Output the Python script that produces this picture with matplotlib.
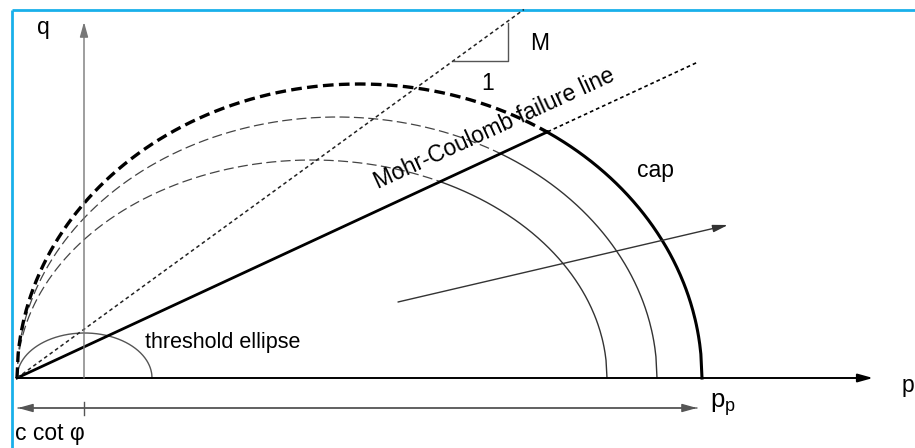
import numpy as np
import matplotlib
matplotlib.use("Agg")
import matplotlib.pyplot as plt

plt.rcParams['font.family'] = ['Liberation Sans', 'DejaVu Sans']

# schematic values (p, q units of the sketch)
cap_pp = [590, 640, 685]        # where each yield cap meets the p axis
cap_qmax = [218, 261, 294]      # top of each cap ellipse
mc_slope = 0.464                # Mohr-Coulomb failure line
mc_end = 681                    # end of the dotted extension
m_slope = 0.727                 # critical state line, slope M
tri_run = [436, 491]            # the little M : 1 triangle
threshold_pp = 135              # threshold ellipse
threshold_qmax = 45
c_cot_phi = 67
path_start = [381, 76]          # stress path arrow
path_end = [711, 153]


def ellipse(pp, qmax, n=600):
    p = np.linspace(0, pp, n)
    a = pp / 2.0
    q = qmax * np.sqrt(np.clip(1 - ((p - a) / a) ** 2, 0, None))
    return p, q


def arrow(ax, start, end, style, color, lw):
    ax.annotate('', xy=end, xytext=start,
                arrowprops=dict(arrowstyle=style, color=color, lw=lw,
                                shrinkA=0, shrinkB=0))


fig = plt.figure(figsize=(9.15, 4.48), dpi=100)
ax = fig.add_axes([0, 0, 1, 1])
ax.set_xlim(-17, 898)
ax.set_ylim(-70, 378)
ax.axis('off')

# frame (left + top, cyan)
top_q = 368.5
ax.plot([-5, -5], [-70, top_q], color='#19b0ea', lw=2.0, solid_capstyle='butt')
ax.plot([-5, 898], [top_q, top_q], color='#19b0ea', lw=2.0, solid_capstyle='butt')

# axes
head = '-|>,head_length=0.9,head_width=0.25'
arrow(ax, (0, 0), (856, 0), head, 'black', 1.4)
arrow(ax, (c_cot_phi, 0), (c_cot_phi, 356), head, '#777777', 1.0)
arrow(ax, (cap_pp[-1] - 5, -30), (1, -30), head, '#555555', 1.0)
arrow(ax, (1, -30), (cap_pp[-1] - 5, -30), head, '#555555', 1.0)
ax.plot([c_cot_phi, c_cot_phi], [-24, -37], color='#555555', lw=1.0)

# threshold ellipse
tp, tq = ellipse(threshold_pp, threshold_qmax)
ax.plot(tp, tq, color='#555555', lw=1.0)

# caps: dashed above the MC line, solid below
mc_hit = None
for i, (pp, qm) in enumerate(zip(cap_pp, cap_qmax)):
    p, q = ellipse(pp, qm)
    above = q > mc_slope * p
    k = np.where(above)[0][-1] + 1
    outer = i == len(cap_pp) - 1
    if outer:
        ax.plot(p[:k + 1], q[:k + 1], color='black', lw=2.4, dashes=(3.2, 1.6))
        ax.plot(p[k:], q[k:], color='black', lw=2.2)
        mc_hit = p[k]
    else:
        ax.plot(p[:k + 1], q[:k + 1], color='#444444', lw=0.9, dashes=(8, 3.5))
        ax.plot(p[k:], q[k:], color='#333333', lw=1.0)

# Mohr-Coulomb failure line
ax.plot([0, mc_hit], [0, mc_slope * mc_hit], color='black', lw=2.0)
ax.plot([mc_hit, mc_end], [mc_slope * mc_hit, mc_slope * mc_end], color='black', lw=1.2, dashes=(2.2, 1.8))

# M line and slope triangle
m_end = top_q / m_slope
ax.plot([0, m_end], [0, top_q], color='#222222', lw=1.1, dashes=(2.4, 2.0))
ax.plot([tri_run[0], tri_run[1], tri_run[1]],
        [m_slope * tri_run[0], m_slope * tri_run[0], m_slope * tri_run[1] - 2],
        color='#555555', lw=1.0)

# stress path arrow
arrow(ax, path_start, path_end, '-|>,head_length=0.9,head_width=0.22', '#333333', 1.0)

fs = 16.5
ax.text(26, 351, 'q', fontsize=fs, ha='center', va='center')
ax.text(885, -7, 'p', fontsize=fs, ha='left', va='center')
ax.text(523, 335, 'M', fontsize=fs, ha='center', va='center')
ax.text(471, 295, '1', fontsize=fs, ha='center', va='center')
ax.text(638, 208, 'cap', fontsize=fs, ha='center', va='center')
ax.text(128, 36, 'threshold ellipse', fontsize=15.5, ha='left', va='center')
ax.text(477, 249, 'Mohr-Coulomb failure line', fontsize=fs, ha='center', va='center',
        rotation=np.degrees(np.arctan(mc_slope)) - 0.3, rotation_mode='anchor')
ax.text(-2, -55, 'c cot φ', fontsize=fs, ha='left', va='center')
ax.text(693, -13, r'$\mathregular{p_p}$', fontsize=fs + 2, ha='left', va='top')

fig.savefig('out.png', dpi=100, facecolor='white')
